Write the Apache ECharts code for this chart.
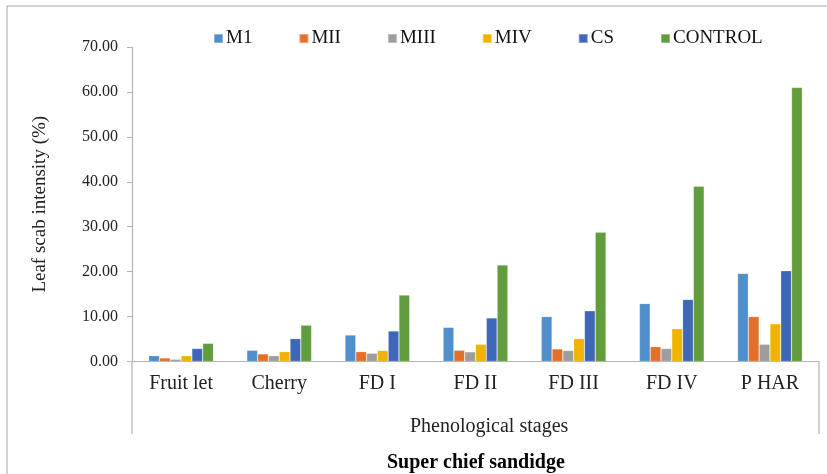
<!DOCTYPE html>
<html>
<head>
<meta charset="utf-8">
<script src="https://cdn.jsdelivr.net/npm/echarts@6/dist/echarts.min.js"></script>
<style>
html,body{margin:0;padding:0;background:#fff;}
#c{width:827px;height:474px;}
</style>
</head>
<body>
<div id="c"></div>
<script>
const categories = ['Fruit let', 'Cherry', 'FD I', 'FD II', 'FD III', 'FD IV', 'P HAR'];
const seriesNames = ['M1', 'MII', 'MIII', 'MIV', 'CS', 'CONTROL'];
const M1 = [1.3, 2.5, 5.9, 7.6, 10.0, 12.9, 19.6];
const MII = [0.8, 1.7, 2.2, 2.5, 2.8, 3.3, 10.0];
const MIII = [0.5, 1.3, 1.85, 2.15, 2.45, 2.9, 3.85];
const MIV = [1.3, 2.2, 2.45, 3.85, 5.1, 7.3, 8.4];
const CS = [2.9, 5.1, 6.8, 9.7, 11.3, 13.8, 20.2];
const CONTROL = [4.05, 8.1, 14.8, 21.5, 28.8, 39.0, 61.0];
const yTicks = [0, 10, 20, 30, 40, 50, 60, 70];

const seriesData = [M1, MII, MIII, MIV, CS, CONTROL];
const colors = ['#4f8fcb', '#e2702b', '#9d9d9d', '#f0b300', '#3f67b8', '#619c3d'];
const FONT = "'Liberation Serif', 'Times New Roman', serif";

const chart = echarts.init(document.getElementById('c'), null, {renderer: 'canvas'});
chart.setOption({
  animation: false,
  color: colors,
  textStyle: {fontFamily: FONT},
  title: [{
    text: 'Phenological stages',
    left: 405, top: 412,
    textStyle: {fontFamily: FONT, fontSize: 20, fontWeight: 'normal', color: '#222'}
  }, {
    text: 'Super chief sandidge',
    left: 382, top: 448,
    textStyle: {fontFamily: FONT, fontSize: 20, fontWeight: 'bold', color: '#000'}
  }],
  legend: {
    left: 208, top: 24,
    itemWidth: 9, itemHeight: 9, itemGap: 46,
    icon: 'rect',
    textStyle: {fontFamily: FONT, fontSize: 19, color: '#111', padding: [0, 0, 0, -2]},
    data: seriesNames
  },
  grid: {left: 132, right: 8, top: 47, bottom: 112.5, containLabel: false},
  xAxis: {
    type: 'category',
    data: categories,
    axisLine: {lineStyle: {color: '#b3b3b3', width: 1.2}},
    axisTick: {show: false},
    axisLabel: {fontFamily: FONT, fontSize: 20, color: '#222', margin: 12, interval: 0}
  },
  yAxis: {
    type: 'value',
    min: yTicks[0], max: yTicks[yTicks.length - 1], interval: 10,
    name: 'Leaf scab intensity (%)',
    nameLocation: 'middle', nameRotate: 90, nameGap: 82,
    nameTextStyle: {fontFamily: FONT, fontSize: 19, color: '#222'},
    axisLine: {show: true, lineStyle: {color: '#b3b3b3', width: 1.2}},
    axisTick: {show: true, length: 5, lineStyle: {color: '#b3b3b3'}},
    splitLine: {show: false},
    axisLabel: {fontFamily: FONT, fontSize: 16, color: '#222', margin: 14,
      formatter: v => v.toFixed(2)}
  },
  series: seriesNames.map((n, i) => ({
    name: n,
    type: 'bar',
    data: seriesData[i],
    barGap: '0%',
    barCategoryGap: '34%',
    itemStyle: {borderColor: 'rgba(255,255,255,0.35)', borderWidth: 0.6}
  })),
  graphic: [
    {type: 'rect', shape: {x: 7, y: 6, width: 900, height: 600},
     style: {fill: 'none', stroke: '#a8a8a8', lineWidth: 1}, silent: true},
    {type: 'line', shape: {x1: 132, y1: 361.5, x2: 132, y2: 434},
     style: {stroke: '#b3b3b3', lineWidth: 1.2}, silent: true},
    {type: 'line', shape: {x1: 819, y1: 361.5, x2: 819, y2: 434},
     style: {stroke: '#b3b3b3', lineWidth: 1.2}, silent: true}
  ]
});
</script>
</body>
</html>
